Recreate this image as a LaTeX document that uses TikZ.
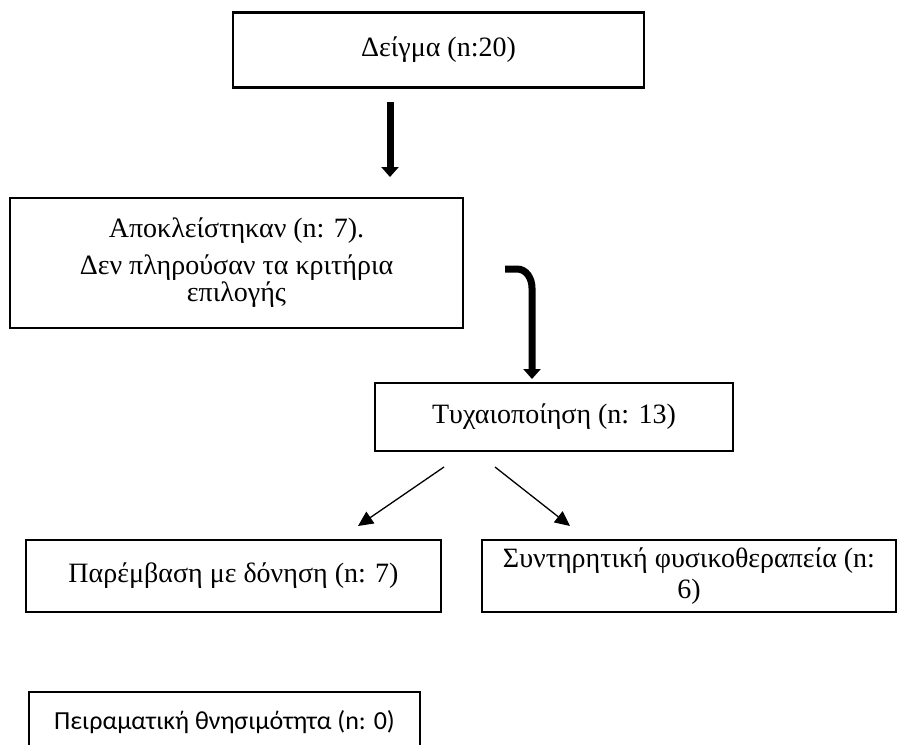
\documentclass[tikz,border=0pt]{standalone}
\usepackage{fontspec}
\setmainfont{Liberation Serif}
\newfontfamily\notefont{Carlito}
\usetikzlibrary{arrows.meta}
\tikzset{
  box/.style={draw, line width=2.2pt, align=center, inner sep=0pt},
  fatarrow/.style={line width=7pt, -{Triangle[length=10pt,width=17pt]}},
  thinarrow/.style={line width=1.3pt, -{Triangle[length=15pt,width=14pt]}}
}
\begin{document}
\begin{tikzpicture}[x=1pt, y=-1pt, font=\fontsize{28}{31}\selectfont]
\useasboundingbox (0,0) rectangle (899,744);
\node (sample)[box, minimum width=411pt, minimum height=75pt] at (438.5,50) {Δείγμα (n:20)};
\node (excluded)[box, minimum width=453pt, minimum height=130pt, font=\fontsize{28}{27}\selectfont] at (236.5,263) {Αποκλείστηκαν (n: 7).\\[10pt]Δεν πληρούσαν τα κριτήρια\\επιλογής};
\node (random)[box, minimum width=358pt, minimum height=68pt] at (554,417) {Τυχαιοποίηση (n: 13)};
\node (vibration)[box, minimum width=415pt, minimum height=72pt] at (233.5,576) {Παρέμβαση με δόνηση (n: 7)};
\node (physio)[box, minimum width=414pt, minimum height=72pt] at (689,576) {Συντηρητική φυσικοθεραπεία (n:\\6)};
\node (deaths)[box, anchor=west, inner xsep=25pt, minimum height=60pt] at (28,722) {\notefont\fontsize{26}{30}\selectfont Πειραματική θνησιμότητα (n: 0)};
\coordinate (s1) at (390,102);
\coordinate (e1) at (390,177);
\coordinate (s2) at (505,269);
\coordinate (e2) at (532,379);
\coordinate (s3) at (444,467);
\coordinate (e3) at (358,526);
\coordinate (s4) at (495,467);
\coordinate (e4) at (570,526);
\draw[fatarrow] (s1) -- (e1);
\draw[fatarrow] (s2) -- ++(12,0) to[out=0,in=90] (e2 |- 288,288) -- (e2);
\draw[thinarrow] (s3) -- (e3);
\draw[thinarrow] (s4) -- (e4);
\end{tikzpicture}
\end{document}
